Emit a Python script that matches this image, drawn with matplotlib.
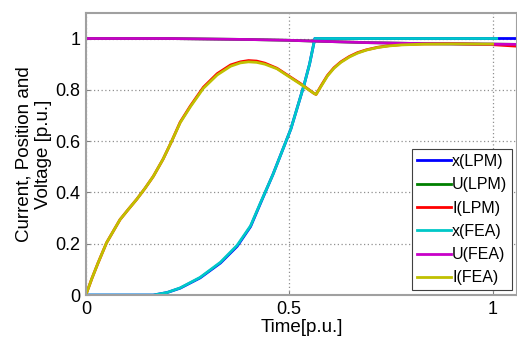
import matplotlib
matplotlib.use("Agg")
import matplotlib.pyplot as plt

plt.rcParams['font.family'] = ['Liberation Sans', 'DejaVu Sans']

# Time axis [p.u.] for the current curves
t = [0.0, 0.015, 0.03, 0.051, 0.084, 0.105, 0.125, 0.145, 0.166, 0.19, 0.21,
     0.232, 0.257, 0.289, 0.323, 0.356, 0.38, 0.4, 0.42, 0.44, 0.47, 0.495,
     0.528, 0.561, 0.566, 0.58, 0.594, 0.61, 0.627, 0.648, 0.668, 0.69, 0.718,
     0.745, 0.775, 0.832, 0.9, 1.0, 1.06]

# Current
i_lpm = [0.0, 0.065, 0.125, 0.204, 0.294, 0.335, 0.373, 0.415, 0.463, 0.53,
         0.596, 0.674, 0.737, 0.81, 0.863, 0.897, 0.909, 0.914, 0.912, 0.904,
         0.884, 0.858, 0.824, 0.786, 0.782, 0.82, 0.856, 0.886, 0.909, 0.93,
         0.945, 0.956, 0.966, 0.972, 0.976, 0.979, 0.98, 0.976, 0.97]
i_fea = [0.0, 0.065, 0.125, 0.204, 0.294, 0.335, 0.373, 0.415, 0.463, 0.53,
         0.596, 0.672, 0.734, 0.806, 0.858, 0.892, 0.905, 0.909, 0.907, 0.9,
         0.882, 0.856, 0.822, 0.786, 0.782, 0.818, 0.854, 0.884, 0.907, 0.928,
         0.943, 0.955, 0.965, 0.971, 0.975, 0.978, 0.979, 0.978]

# Position
t_x = [0.0, 0.166, 0.2, 0.232, 0.281, 0.331, 0.372, 0.405, 0.43, 0.46, 0.504,
       0.536, 0.55, 0.563, 0.6, 0.8, 1.01, 1.06]
x_lpm = [0.0, 0.0, 0.01, 0.027, 0.067, 0.125, 0.19, 0.267, 0.36, 0.47, 0.647,
         0.816, 0.9, 1.0, 1.0, 1.0, 1.0, 1.0]
x_fea = [0.0, 0.0, 0.01, 0.028, 0.069, 0.128, 0.194, 0.27, 0.362, 0.47, 0.647,
         0.816, 0.9, 1.0, 1.0, 1.0, 1.0]

# Voltage
t_u = [0.0, 0.2, 0.3, 0.405, 0.5, 0.56, 0.69, 0.83, 0.9, 1.0, 1.06]
u_lpm = [1.0, 1.0, 0.998, 0.996, 0.993, 0.99, 0.984, 0.98, 0.979, 0.978, 0.977]
u_fea = [1.0, 1.0, 0.998, 0.996, 0.993, 0.99, 0.984, 0.98, 0.979, 0.978, 0.977]

fig = plt.figure(figsize=(5.17, 3.38), dpi=100)
ax = fig.add_axes([0.166, 0.127, 0.834, 0.835])

ax.plot(t_x, x_lpm, color='#0000ff', lw=2, label='x(LPM)')
ax.plot(t_u, u_lpm, color='#008000', lw=2, label='U(LPM)')
ax.plot(t, i_lpm, color='#ff0000', lw=2, label='I(LPM)')
ax.plot(t_x[:len(x_fea)], x_fea, color='#00c8c8', lw=2, label='x(FEA)')
ax.plot(t_u, u_fea, color='#c800c8', lw=2, label='U(FEA)')
ax.plot(t[:len(i_fea)], i_fea, color='#c0c000', lw=2, label='I(FEA)')

ax.set_xlim(0, 1.06)
ax.set_ylim(0, 1.1)
ax.set_xticks([0, 0.5, 1])
ax.set_xticklabels(['0', '0.5', '1'])
ax.set_yticks([0, 0.2, 0.4, 0.6, 0.8, 1])
ax.set_yticklabels(['0', '0.2', '0.4', '0.6', '0.8', '1'])
ax.grid(True, linestyle=(0, (1, 2)), color='#909090', lw=0.9)
ax.tick_params(labelsize=13, direction='in', length=3, color='#808080', pad=4)
for s in ax.spines.values():
    s.set_color('#a0a0a0')
    s.set_linewidth(1.5)

ax.set_xlabel('Time[p.u.]', fontsize=13.5, labelpad=1)
ax.set_ylabel('Current, Position and\nVoltage [p.u.]', fontsize=13.5, labelpad=2)

leg = ax.legend(loc='lower right', fontsize=11.5, fancybox=False, framealpha=1,
                edgecolor='#404040', handlelength=2.1, handletextpad=0.1,
                labelspacing=0.52, borderpad=0.3, borderaxespad=0.3)
leg.get_frame().set_linewidth(0.8)

fig.savefig('out.png', dpi=100)
